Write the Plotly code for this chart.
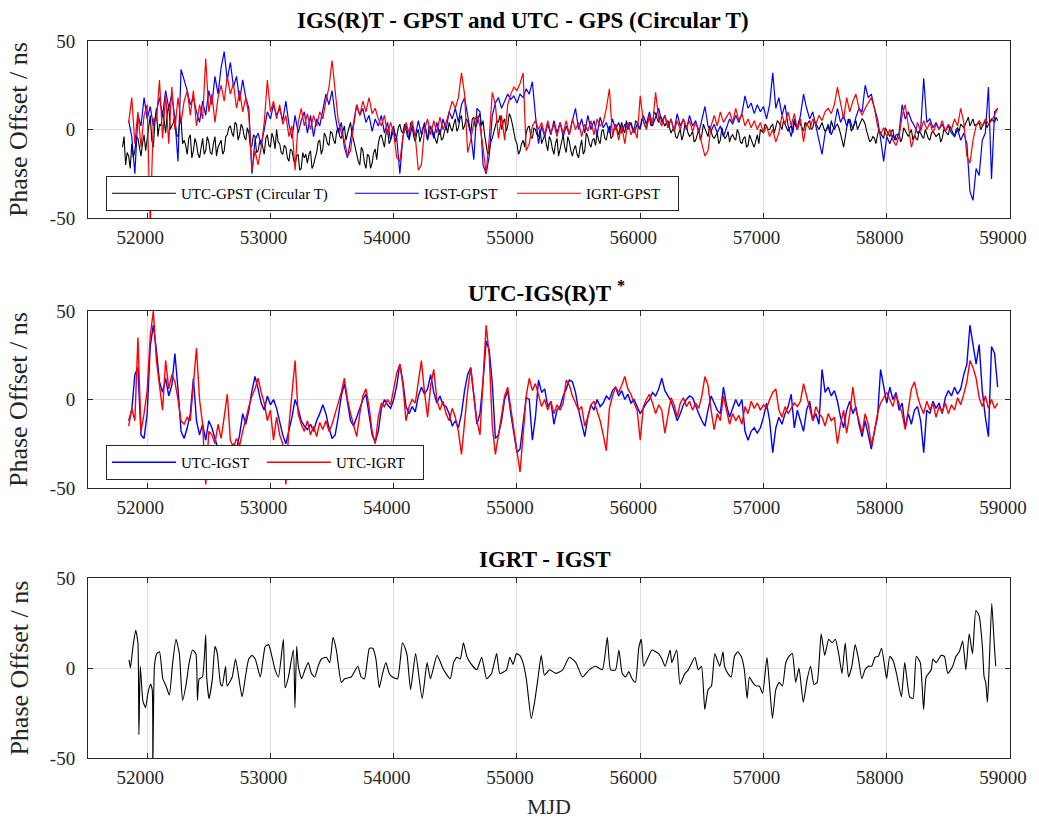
import plotly.graph_objects as go

# ---------------- data ----------------
STEP = 25          # days between samples inside a row
ROW = 500          # each row of 20 values spans 500 days

# Top panel: UTC-GPST (Circular T) - samples at start + 25*i
utc_gpst_start = 51800
utc_gpst_rows = [
    [-10, -20, -15, -8, -12, -5, -15, -3, -5, 8, -10, 12, 3, 10, -2, 14, 2, 8, -4, 6],
    [-6, -14, -3, -12, -8, -16, -5, -12, -7, -14, -4, -10, -6, -12, -3, 2, -4, 3, -3, 1],
    [-6, -2, -9, -4, -12, -6, -14, -3, -10, -5, 0, -8, -14, -10, -18, -12, -20, -14, -22, -16],
    [-19, -12, -20, -13, -6, -11, -4, -9, -2, -8, 1, -5, 2, -2, 4, -6, -14, -20, -12, -22],
    [-15, -19, -11, -8, -3, -10, 0, -6, 2, -4, 3, -2, 0, -5, 2, -7, 0, -4, 3, -6],
    [1, -3, -8, 0, -5, 2, 4, -1, 6, 1, 8, 2, 5, -2, 7, 3, 9, 5, -8, -12],
    [-5, 2, 4, 0, 6, 2, 7, -2, -8, -12, -6, -2, 2, -5, 0, -4, -8, -3, -12, -6],
    [-14, -5, -11, -3, -13, -7, -15, -9, -16, -6, -12, -4, -10, -5, -2, -8, 0, -6, 2, -4],
    [3, -3, 4, -2, 1, 3, -1, 4, 0, 5, 1, 7, 3, 9, 4, 6, 2, 5, -2, 1],
    [-5, 0, -3, 2, -4, -1, -6, 0, -3, 1, -4, -1, -5, -2, -6, -3, -4, -7, -3, -6],
    [-2, -8, -4, -9, -6, -10, -3, 0, -2, 2, 0, 3, 1, 4, 0, 3, -1, 2, 4, 0],
    [3, -1, 2, 5, 1, 3, 0, 4, -1, 2, 5, 0, 3, -2, -10, 1, 4, 1, 5, 2],
    [6, 3, -4, -6, -5, -3, -2, -5, -1, -4, 0, -3, -2, -5, -1, -4, 0, -3, -6, -2],
    [-5, -3, -6, -1, -4, -2, -5, -1, -3, 0, -4, 1, 3, 1, 5, 2, 6, 3, 4, 2],
    [5, 3, 6, 4, 5],
]
# UTC-GPST samples in between (start + 12.5 + 25*i)
utc_gpst_mid_rows = [
    [-4, -13, -22, -16, -4, -11, -8, -12, 4, -6, 4, -4, 2, 5, 9, 0, 4, -3, 3, -8],
    [-9, -5, -16, -5, -14, -9, -14, -4, -13, -8, -15, -8, -14, -4, 1, -2, 4, -6, 3, -4],
    [1, -10, -3, -13, -7, -10, -5, -9, -2, -11, -7, -13, -9, -16, -11, -17, -15, -23, -13, -14],
    [-14, -22, -16, -7, -14, -2, -8, -1, -6, -1, -4, -1, -6, 1, -3, -10, -18, -10, -19, -14],
    [-22, -13, -17, -4, -7, -2, -8, 0, -7, 1, -1, 3, -4, 4, -4, -2, -7, 1, -2, 2],
    [0, -6, -3, -6, -1, -2, 1, 3, -1, 6, 0, 6, 1, 6, 1, 7, 2, -3, -14, -7],
    [-1, 5, 8, 4, -1, 9, 3, -6, -14, -8, -10, 1, -4, 1, -3, 0, -5, -8, -4, -11],
    [-8, -15, -6, -10, -4, -12, -11, -14, -10, -14, -2, -8, -6, -9, -6, -1, -5, -1, -5, 0],
    [0, 1, 0, 5, 4, 0, 5, 1, 6, 2, 5, 2, 10, 6, 8, 3, 4, 1, 0, -4],
    [-2, -6, 3, -2, -3, -7, -3, -6, 3, -2, 2, -4, -3, -8, 1, -5, -1, -4, -5, 0],
    [-7, -5, -10, -3, -8, -6, -8, -1, 3, 0, 2, -2, 5, 2, 5, 2, 1, -2, 2, 5],
    [1, 4, 4, 0, 5, 1, 2, 1, 0, -2, 2, 2, 1, -6, -4, 6, -1, 3, 0, 4],
    [5, -1, -7, -4, -8, 0, -4, 1, -3, -1, -6, -3, -7, 1, -3, -2, -6, -5, -1, -4],
    [0, -5, -2, -3, -3, -7, 0, -2, 2, -2, 0, -1, 2, 3, 7, 4, 2, 3, 0, 4],
    [1, 4, 5, 7],
]

# Top panel: IGST-GPST
igst_gpst_start = 51850
igst_gpst_rows = [
    [5, -4, -25, 8, 2, 18, 6, 13, 2, 10, 18, 8, 22, 12, 20, 6, -18, 34, 28, 22],
    [14, 18, 10, 4, 16, 8, 22, 14, 30, 20, 35, 44, 28, 38, 24, 30, 16, 28, 18, 12],
    [-25, -6, -2, -9, 0, 10, 6, 14, 8, 12, 5, 16, 3, -5, 8, -2, 5, 10, -2, 8],
    [-4, 6, 2, 10, 20, 14, 22, 8, -2, 4, -10, -16, -6, 6, 14, 8, 12, 4, 8, -1],
    [6, 2, 8, -2, 4, -6, 0, -5, -25, -4, 3, -6, 2, -4, 5, -3, 4, -6, 2, -5],
    [4, -3, 6, 0, 10, 6, 12, 4, 14, 18, 8, -2, -17, 12, 10, -20, -25, -15, 8, 15],
    [18, 12, 16, 20, 17, 19, 15, 20, 18, 23, 20, 27, 8, -8, 2, -4, 3, -3, 5, -2],
    [4, -4, 2, -3, 5, 12, 0, 6, -2, 8, 0, 5, -3, 7, 1, 4, -2, 6, 0, 4],
    [-2, 3, 0, 4, -2, 3, 1, 8, 3, 10, 2, 7, 12, 4, 8, 1, 6, -1, 9, 2],
    [6, 0, 8, 2, 5, -2, 6, 13, 2, -1, 3, -2, 2, -4, 1, 6, 3, 8, 4, 9],
    [19, 12, 15, 9, 14, 10, 13, 6, 14, 32, 12, 18, 8, 14, 2, -4, 6, 0, 8, 20],
    [12, 6, 10, 2, -5, -14, -2, 3, -3, 2, 12, 4, 8, 2, 6, 0, 7, 12, 10, 25],
    [18, 20, 12, 6, -5, -18, -4, -8, -3, -6, -2, 14, 6, 10, 5, 2, -2, 0, 29, 4],
    [6, 1, 4, 0, 3, -1, 2, -2, -4, 0, -6, -2, -8, -35, -40, -22, -26, -6, -2, 24],
    [-28, 10, 12],
]

# Top panel: IGRT-GPST
igrt_gpst_start = 51850
igrt_gpst_rows = [
    [4, 18, -8, 10, -10, 8, 14, -55, 6, 5, 28, -5, 20, -8, 24, 0, 18, 4, 16, 22],
    [8, 22, 2, 14, 6, 40, 10, 20, 4, 18, 25, 16, 30, 20, 26, 12, 22, 10, 18, 8],
    [-23, -12, -20, -10, 4, 28, 10, 16, 6, 14, 3, 8, -4, 2, -23, 4, 12, 2, 9, 0],
    [8, 2, 10, 6, 16, 24, 39, 22, 5, -2, -6, -15, -12, 2, 14, 8, 16, 10, 18, 9],
    [12, 6, 2, 8, -3, 4, -2, -16, -18, -4, 4, -2, 5, -4, -23, -20, 0, 6, -3, 5],
    [-2, 7, 0, 4, 10, 16, 12, 18, 32, 20, -13, -6, 4, 8, 2, -10, -25, -5, 21, 14],
    [-5, 8, -6, 14, 20, 24, 22, 26, 32, -12, -8, 2, 5, 0, 4, -3, 5, -2, 3, -4],
    [4, -2, 5, -3, 6, 0, 4, -4, 3, -1, 5, -3, 6, 2, 4, 12, 23, -4, 3, -6],
    [2, -8, 4, -3, 1, -5, 19, 5, 0, 8, 3, 21, 6, 2, 8, 1, 6, -1, 5, 0],
    [6, 1, 5, -1, 4, 0, -8, -15, -12, 2, 8, 2, 10, 4, 7, 10, 4, 12, 5, 9],
    [2, 6, 1, 5, 0, 4, -2, 2, -4, 0, -7, -2, 8, 3, 10, 2, 9, 0, 6, -7],
    [4, 0, 6, 3, 8, 5, 10, 12, 9, 14, 24, 14, 6, 18, 10, 16, 20, 12, 8, 12],
    [15, 18, 12, 2, -3, 1, -4, 0, -6, -9, -4, 8, 14, 2, -10, -4, 4, -1, 5, 0],
    [4, -2, 3, 0, 5, -1, 3, 0, 6, 2, 12, 4, -15, -19, -6, 2, 5, 2, 6, 3],
    [5, 8, 12],
]

# Middle panel: UTC-IGST
utc_igst_start = 51850
utc_igst_rows = [
    [-12, -6, 14, 18, -20, -22, -8, 30, 42, 28, 10, 4, 12, 2, 8, 26, 6, -18, -22, -16],
    [-8, 12, -12, -20, -14, -23, -12, -16, -22, -28, -26, -30, -27, -29, -25, -28, -20, -8, -14, -6],
    [5, 13, 6, -2, -6, 2, -3, 0, -5, -12, -20, -25, -18, -10, 0, -5, -12, -15, -17, -14],
    [-18, -12, -8, -3, -8, -16, -22, -20, -10, 2, 9, -2, -12, -15, -10, -4, 0, 3, -10, -20],
    [-24, -18, -5, 0, -3, -5, 0, 8, 20, 10, -4, -8, -4, -7, 2, 7, 3, 6, 14, 4],
    [-2, 2, -3, -4, -8, -15, -12, -16, -8, 5, 14, 18, 2, -14, -8, 10, 33, 28, 9, -22],
    [-20, -12, 0, 5, -8, -18, -30, -28, -12, 1, 0, -23, -10, 11, 4, 6, -4, -1, -14, -6],
    [-4, 2, 6, 11, 10, 4, -6, -14, -21, -10, -3, -6, 0, -4, -2, 2, 0, 5, 7, 2],
    [5, 0, 3, -2, 0, -4, -8, -5, -2, 0, 4, 2, 6, 12, 5, 2, -1, -6, -12, -8],
    [-3, 0, 2, 1, -4, -8, -12, -15, -6, 2, -2, -6, -8, 7, -3, -10, -5, 0, -4, 0],
    [-18, -23, -18, -16, -19, -16, -10, -2, -12, -30, -16, -10, -14, -8, -4, 3, -16, -6, -12, -18],
    [-6, -1, -12, -8, -14, 17, 4, 7, 2, 5, -1, -10, -16, -6, -1, -8, -4, -14, -21, -12],
    [-20, -28, -18, -10, 17, 8, -2, 7, 0, 4, -6, -2, -16, -8, -14, -6, -4, -12, -30, -6],
    [-8, -1, -5, -2, -8, 1, 5, 2, 7, 3, 6, 14, 20, 42, 30, 20, 31, 5, -10, -21],
    [30, 26, 7],
]

# Middle panel: UTC-IGRT
utc_igrt_start = 51850
utc_igrt_rows = [
    [-15, -5, -12, 35, -18, -8, 5, 36, 50, 22, 8, -6, 22, 6, 14, 10, 0, -12, -14, -10],
    [-12, 8, 29, 0, -14, -48, -18, -20, -25, -14, -22, -10, 3, -23, -27, -22, -26, -18, -10, -4],
    [2, 6, 12, 4, -2, -12, -6, -23, -10, -20, -25, -48, -15, 2, 22, -8, -14, -18, -12, -20],
    [-15, -21, -13, -17, -12, -18, -14, -8, -2, 4, 12, 0, -8, -14, -21, -8, 2, 6, -4, -18],
    [-25, -10, -2, -4, 0, -3, 6, 15, 20, 8, -12, -4, 0, -2, 10, 22, 4, -10, 8, 17],
    [0, -6, -1, -8, -12, -5, -10, -18, -31, -12, 5, 18, 2, -12, -20, 10, 42, 25, -15, -31],
    [-20, -8, 2, 7, -5, -18, -28, -41, -20, 2, 12, 5, 9, 2, -4, 0, -6, -1, -8, -3],
    [-6, -2, 11, 8, 2, -2, -6, -4, -15, -10, -3, -1, -6, -12, -20, -29, -5, 2, 7, 4],
    [8, 13, 6, 3, -2, -6, -23, -4, 0, 3, -2, -8, -3, -6, -19, -8, 1, -3, -10, -2],
    [1, -4, -1, -6, -2, -5, 2, 13, 8, -6, -17, -8, -12, 2, -6, -14, -8, -12, -9, -14],
    [-4, -8, -1, -5, -2, -6, -3, -5, 0, 4, 6, -6, -10, -4, -8, -5, -2, -4, -1, 9],
    [2, -6, -12, -4, -8, -10, -15, -8, -12, -10, -25, -14, -6, -19, -8, 7, -6, -12, -19, -8],
    [-14, -26, -18, -8, -2, 1, 4, 0, -4, 3, -2, -8, -17, -6, 6, 10, 2, -4, -8, -1],
    [-6, -2, -10, -4, -7, -2, -8, -3, -6, 1, -3, 3, 10, 22, 18, 12, 1, -4, 2, -5],
    [0, -5, -2],
]

# Bottom panel: IGRT - IGST (sample dates and values)
igrt_igst_mjd = [
    51853, 51864, 51885, 51907, 51925, 51933, 51944, 51966, 51987, 52006, 52027, 52041, 52046, 52059,
    52078, 52100, 52127, 52153, 52180, 52207, 52234, 52261, 52287, 52314, 52341, 52368, 52395, 52408,
    52422, 52448, 52475, 52483, 52502, 52529, 52550, 52569, 52596, 52609, 52636, 52649, 52690, 52717,
    52770, 52797, 52824, 52851, 52877, 52918, 52958, 52985, 53012, 53038, 53065, 53105, 53119, 53146,
    53186, 53199, 53213, 53226, 53253, 53280, 53307, 53333, 53360, 53387, 53414, 53454, 53481, 53508,
    53535, 53575, 53602, 53655, 53709, 53736, 53763, 53803, 53830, 53856, 53883, 53910, 53937, 53964,
    53990, 54031, 54071, 54098, 54110, 54137, 54178, 54231, 54271, 54298, 54352, 54405, 54459, 54486,
    54513, 54540, 54566, 54593, 54620, 54674, 54714, 54754, 54794, 54835, 54861, 54915, 54942, 54969,
    54996, 55022, 55049, 55076, 55116, 55143, 55170, 55197, 55223, 55264, 55317, 55371, 55425, 55478,
    55532, 55586, 55639, 55693, 55733, 55760, 55800, 55827, 55854, 55881, 55907, 55934, 55961, 55988,
    56009, 56028, 56068, 56095, 56149, 56176, 56202, 56243, 56256, 56296, 56323, 56363, 56390, 56444,
    56471, 56497, 56524, 56551, 56578, 56605, 56645, 56672, 56684, 56711, 56738, 56765, 56792, 56819,
    56845, 56867, 56886, 56912, 56939, 56966, 56993, 57028, 57047, 57073, 57100, 57127, 57154, 57181,
    57207, 57234, 57261, 57288, 57323, 57355, 57382, 57409, 57435, 57468, 57497, 57529, 57556, 57583,
    57610, 57637, 57663, 57690, 57717, 57744, 57771, 57798, 57824, 57851, 57878, 57905, 57932, 57958,
    57985, 57999, 58025, 58052, 58079, 58119, 58146, 58186, 58213, 58240, 58272, 58299, 58320, 58361,
    58374, 58401, 58441, 58468, 58495, 58535, 58562, 58589, 58616, 58642, 58669, 58696, 58723, 58750,
    58776, 58790, 58803, 58817, 58830, 58852, 58870, 58884,
]
igrt_igst_val = [
    4.6, 0, 12, 21, 14, -37, 1, -18.5, -22, -14, -9, -12, -56, 1,
    8, 9, -6, -10, -15, 3, 16, 8, -18, -10, 3, 10, 8, -18,
    -6, -5, 18.5, -5, -17, -6, 12, 8, -9, -10, 1, -10, -5, 5,
    -16, -5, 5, 7, 5, -5, 12, 13, 6.5, -1, -5, 16, -11, -5,
    10, -22, 12, 1, -6, -1, 3, -3, -5, 1, 5, 6, 3, 17,
    10, -8, -6, -5, 1, -5, -6, 11, 11, 5, -11, -3, 3, -3,
    -5, -6, 14, 10, 6.5, -12, 8, -17, 3, -6, 7, -1, -6, 3,
    6, 5, 14, 6.5, 3, -1, 6, -6, -3, 8, -3, -1, 6, 2,
    8, 7, 3, -6, -28, -19, -6, 7, -4, -1, -3, -1, 6, 3,
    -5, -1, 1, -1, 17, -1, -1, 10, -3, -5, -2, -6, -8, 11,
    16, 1, 6.5, 10, 8, 5, 1, 10, 3, 10, -9, -3, -1, 6,
    -1, 1, -23, -12, -10, 8, 1, 9, 1, -3, -5, 6.5, 9, 6.5,
    -1, -17, -5, -8, -10, -10, -14, 6, -8, -28, -12, -8, -10, 3,
    6.5, 8, -8, 0, -19, -6, 1, -9, -8, 19, 7, 16, 14, 16,
    8, -3, 14, -5, 1, 13, 5, -6, -1, 1, 1, 6, 6.5, 11,
    0, -6, 6.5, 4, -3, -16, 3, -16, -17, 6.5, 3, -23, -5, -1,
    5, 3, 7, 6.5, -3, 1, 6.5, 9, 15, -1, 19, 8, 32, 29,
    12, -5, -8, -19, -1, 36, 16, 1,
]

x_ticks = [52000, 53000, 54000, 55000, 56000, 57000, 58000, 59000]
x_tick_text = ["52000", "53000", "54000", "55000", "56000", "57000", "58000", "59000"]
y_ticks = [-50, 0, 50]
y_tick_text = ["-50", "0", "50"]


def expand(start, rows, offset=0.0):
    xs, ys = [], []
    for k, row in enumerate(rows):
        for i, v in enumerate(row):
            xs.append(start + ROW * k + STEP * i + offset)
            ys.append(v)
    return xs, ys


def merged(start, rows, mid_rows):
    a = list(zip(*expand(start, rows)))
    b = list(zip(*expand(start, mid_rows, STEP / 2)))
    pts = sorted(a + b)
    return [p[0] for p in pts], [p[1] for p in pts]


FONT = "Liberation Serif, Times New Roman, Times, serif"
AX_COLOR = "#262626"
GRID = "#dedede"

fig = go.Figure()

bx, by = merged(utc_gpst_start, utc_gpst_rows, utc_gpst_mid_rows)
fig.add_trace(go.Scatter(x=bx, y=by, mode="lines", name="UTC-GPST (Circular T)",
                         line=dict(color="black", width=1.1),
                         xaxis="x", yaxis="y", legend="legend", legendwidth=164))
for name, st, rows, col, lw in [
    ("IGST-GPST", igst_gpst_start, igst_gpst_rows, "blue", 83),
    ("IGRT-GPST", igrt_gpst_start, igrt_gpst_rows, "red", 87),
]:
    xs, ys = expand(st, rows)
    fig.add_trace(go.Scatter(x=xs, y=ys, mode="lines", name=name,
                             line=dict(color=col, width=1.2),
                             xaxis="x", yaxis="y", legend="legend",
                             legendwidth=lw))

for name, st, rows, col, lw in [
    ("UTC-IGST", utc_igst_start, utc_igst_rows, "blue", 76),
    ("UTC-IGRT", utc_igrt_start, utc_igrt_rows, "red", 82),
]:
    xs, ys = expand(st, rows)
    fig.add_trace(go.Scatter(x=xs, y=ys, mode="lines", name=name,
                             line=dict(color=col, width=1.4),
                             xaxis="x2", yaxis="y2", legend="legend2",
                             legendwidth=lw))

fig.add_trace(go.Scatter(x=igrt_igst_mjd, y=igrt_igst_val, mode="lines",
                         name="IGRT-IGST",
                         line=dict(color="black", width=1.1, shape="spline",
                                   smoothing=0.5),
                         xaxis="x3", yaxis="y3", showlegend=False))

xa = dict(range=[51520, 59000], tickvals=x_ticks, ticktext=x_tick_text,
          showgrid=True, gridcolor=GRID,
          gridwidth=1, zeroline=False, showline=True, linecolor=AX_COLOR,
          linewidth=1, mirror="ticks", ticks="inside", ticklen=5,
          tickcolor=AX_COLOR, tickfont=dict(family=FONT, size=19, color=AX_COLOR),
          ticklabelstandoff=2, ticklabelshift=-7, ticklabeloverflow="allow")
ya = dict(range=[-50, 50], tickvals=y_ticks, ticktext=y_tick_text, showgrid=True,
          gridcolor=GRID, gridwidth=1, zeroline=False, showline=True,
          linecolor=AX_COLOR, linewidth=1, mirror="ticks", ticks="inside",
          ticklen=5, tickcolor=AX_COLOR,
          tickfont=dict(family=FONT, size=19, color=AX_COLOR),
          ticklabelstandoff=8, ticklabeloverflow="allow")

doms = [[0.7531, 1.0], [0.3766, 0.6234], [0.0, 0.2510]]
legend_style = dict(orientation="h", xanchor="left", yanchor="top",
                    bgcolor="white", bordercolor=AX_COLOR, borderwidth=1,
                    font=dict(family=FONT, size=15, color="black"), itemwidth=64,
                    tracegroupgap=0)
fig.update_layout(
    width=1039, height=823,
    margin=dict(l=88, r=21, t=41, b=65),
    paper_bgcolor="white", plot_bgcolor="white",
    font=dict(family=FONT, color="black"),
    xaxis=dict(xa, domain=[0, 1], anchor="y"),
    yaxis=dict(ya, domain=doms[0], anchor="x"),
    xaxis2=dict(xa, domain=[0, 1], anchor="y2"),
    yaxis2=dict(ya, domain=doms[1], anchor="x2"),
    xaxis3=dict(xa, domain=[0, 1], anchor="y3"),
    yaxis3=dict(ya, domain=doms[2], anchor="x3"),
    legend=dict(legend_style, x=0.0194, y=0.8117),
    legend2=dict(legend_style, x=0.0194, y=0.4365),
    showlegend=True,
)

ann = []
titles = [
    ("<b>IGS(R)T - GPST and UTC - GPS (Circular T)</b>", 0.472, 1.029),
    ("<b>UTC-IGS(R)T</b> <sup><b>*</b></sup>", 0.497, 0.651),
    ("<b>IGRT - IGST</b>", 0.4957, 0.2775),
]
for txt, xx, yy in titles:
    ann.append(dict(text=txt, x=xx, y=yy, xref="paper", yref="paper",
                    showarrow=False, xanchor="center", yanchor="middle",
                    font=dict(family=FONT, size=23, color="black")))
for d in doms:
    ann.append(dict(text="Phase Offset / ns", x=-0.0753, y=(d[0] + d[1]) / 2,
                    xref="paper", yref="paper", showarrow=False, textangle=-90,
                    xanchor="center", yanchor="middle",
                    font=dict(family=FONT, size=26, color=AX_COLOR)))
ann.append(dict(text="MJD", x=0.5, y=-0.0683, xref="paper", yref="paper",
                showarrow=False, xanchor="center", yanchor="middle",
                font=dict(family=FONT, size=22, color=AX_COLOR)))
fig.update_layout(annotations=ann)

fig.write_html("out.html", config={"displayModeBar": False},
               post_script="document.body.style.margin='0px';")
